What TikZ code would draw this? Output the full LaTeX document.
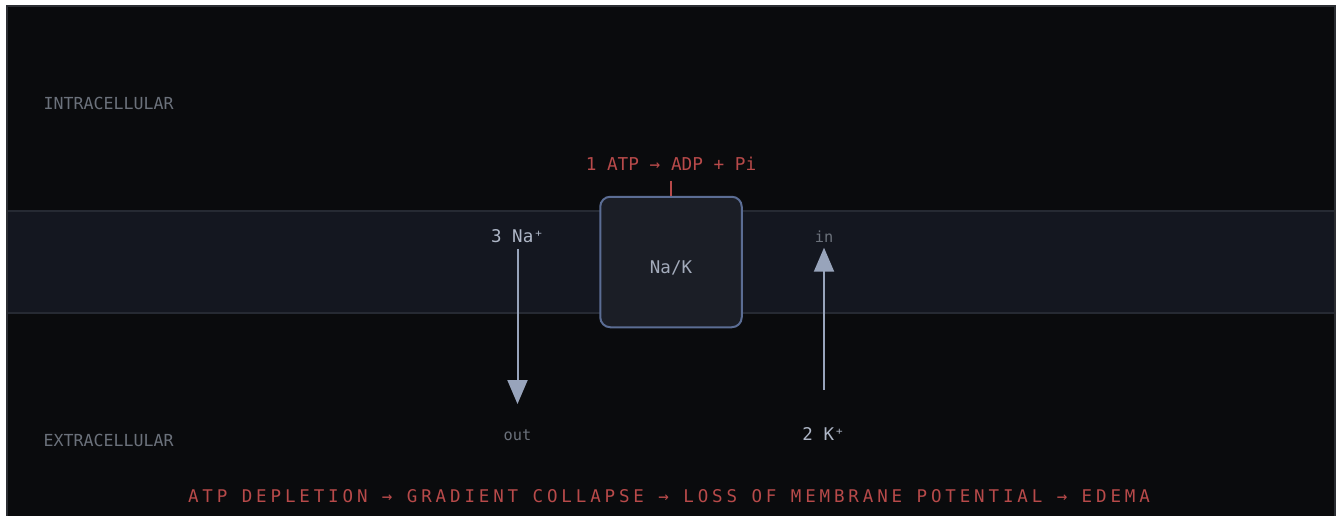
\documentclass[tikz,border=0pt]{standalone}
\usepackage{fontspec}
\usetikzlibrary{arrows.meta}
\newfontfamily\monofont{DejaVu Sans Mono}
\newfontfamily\trackedfont[LetterSpace=22.1]{DejaVu Sans Mono}
\definecolor{bgdark}{HTML}{0A0B0D}
\definecolor{framecol}{HTML}{2C2E33}
\definecolor{membfill}{HTML}{141720}
\definecolor{membline}{HTML}{262A33}
\definecolor{boxfill}{HTML}{1B1E26}
\definecolor{boxline}{HTML}{5B6D94}
\definecolor{dimtext}{HTML}{6B717B}
\definecolor{iontext}{HTML}{AEB6C6}
\definecolor{pumptext}{HTML}{A3ABBB}
\definecolor{arrowcol}{HTML}{98A4BB}
\definecolor{redtext}{HTML}{B84A4A}
\tikzset{
  lbl/.style={inner sep=0pt, anchor=base, font=\monofont\fontsize{17}{17}\selectfont},
  zonelbl/.style={lbl, anchor=base west, text=dimtext, font=\monofont\fontsize{16.6}{17}\selectfont},
  ionlbl/.style={lbl, text=iontext, font=\monofont\fontsize{17.5}{18}\selectfont},
  dirlbl/.style={lbl, text=dimtext, font=\monofont\fontsize{15.3}{16}\selectfont},
  pump/.style={draw=boxline, fill=boxfill, line width=2pt, rounded corners=10pt, minimum width=141.5pt, minimum height=130.5pt, inner sep=0pt},
  flux/.style={draw=arrowcol, line width=2pt, -{Triangle[width=20pt,length=24pt]}},
}
\begin{document}
\begin{tikzpicture}[x=1pt,y=-1pt]
\useasboundingbox (0,0) rectangle (1336,516);
\fill[white] (0,0) rectangle (1336,516);
\fill[bgdark] (6,5) rectangle (1336,530);
\draw[framecol, line width=2pt] (7,530) -- (7,6) -- (1335,6) -- (1335,530);
% membrane
\fill[membfill] (8,211) rectangle (1334,313);
\draw[membline, line width=2pt] (8,211) -- (1334,211);
\draw[membline, line width=2pt] (8,313) -- (1334,313);
% zone labels
\node[zonelbl] (intra) at (43.5,109.3) {INTRACELLULAR};
\node[zonelbl] (extra) at (43.5,446.7) {EXTRACELLULAR};
% pump
\node[pump] (pump) at (671,262) {};
\node[lbl, text=pumptext, font=\monofont\fontsize{17.5}{18}\selectfont] (pumplbl) at (671,273.3) {Na/K};
\node[lbl, text=redtext, font=\monofont\fontsize{17.7}{18}\selectfont] (atp) at (671,170.7) {1 ATP → ADP + Pi};
\coordinate (atptick) at (671,180.7);
\draw[redtext, line width=2pt] (atptick) -- (pump.north);
% ions
\node[ionlbl] (na) at (517.5,242.3) {3 Na⁺};
\node[dirlbl] (out) at (517.5,440.7) {out};
\node[ionlbl] (k) at (823.5,440.7) {2 K⁺};
\node[dirlbl] (in) at (824,242.3) {in};
\coordinate (naStart) at (517.5,249);
\coordinate (naEnd) at (517.5,404);
\coordinate (kStart) at (824,389.5);
\coordinate (kEnd) at (824,247.7);
\draw[flux] (naStart) -- (naEnd);
\draw[flux] (kStart) -- (kEnd);
% bottom cascade
\node[lbl, text=redtext, font=\trackedfont\fontsize{17.5}{18}\selectfont] (cascade) at (669,502.7) {ATP DEPLETION → GRADIENT COLLAPSE → LOSS OF MEMBRANE POTENTIAL → EDEMA};
\end{tikzpicture}
\end{document}
